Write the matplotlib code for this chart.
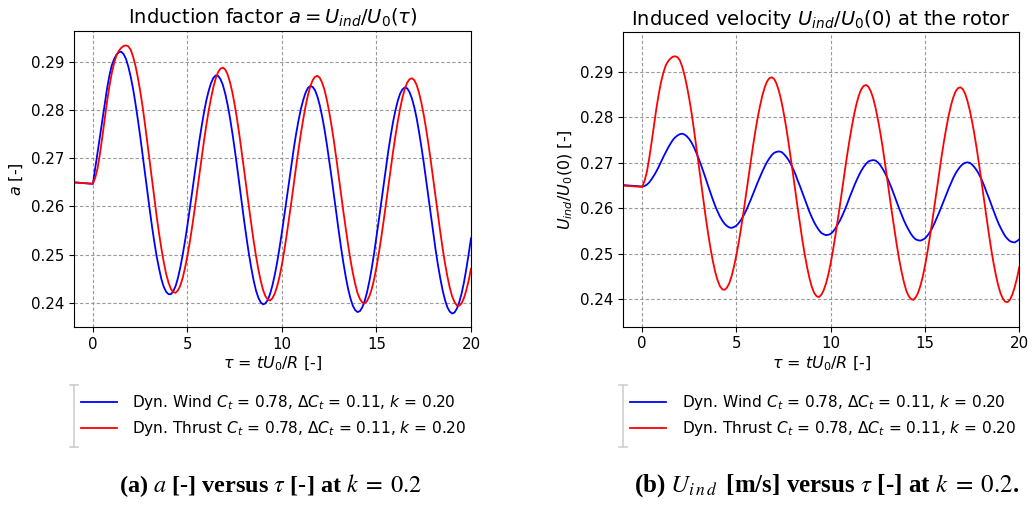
import matplotlib
matplotlib.use("Agg")
import matplotlib.pyplot as plt
from matplotlib.lines import Line2D

plt.rcParams['font.family'] = ['DejaVu Sans']
plt.rcParams['mathtext.fontset'] = 'dejavusans'

# time axis tau = t U0 / R, read every 0.125 from the picture
tau = [-1.0] + [i * 0.125 for i in range(161)]

# Dyn. Wind, induction factor a (left panel)
a_wind = [0.2650,
          0.2647, 0.2680, 0.2713, 0.2747, 0.2780, 0.2813, 0.2845, 0.2872,
          0.2893, 0.2906, 0.2915, 0.2920, 0.2921, 0.2916, 0.2906, 0.2890,
          0.2869, 0.2844, 0.2814, 0.2781, 0.2746, 0.2708, 0.2670, 0.2632,
          0.2595, 0.2559, 0.2526, 0.2496, 0.2471, 0.2449, 0.2433, 0.2423,
          0.2418, 0.2418, 0.2424, 0.2435, 0.2452, 0.2474, 0.2500, 0.2529,
          0.2561, 0.2595, 0.2630, 0.2666, 0.2701, 0.2735, 0.2766, 0.2795,
          0.2820, 0.2840, 0.2856, 0.2867, 0.2872, 0.2871, 0.2864, 0.2852,
          0.2834, 0.2811, 0.2784, 0.2753, 0.2719, 0.2683, 0.2645, 0.2607,
          0.2570, 0.2535, 0.2502, 0.2473, 0.2447, 0.2426, 0.2411, 0.2401,
          0.2397, 0.2399, 0.2406, 0.2419, 0.2437, 0.2459, 0.2485, 0.2515,
          0.2547, 0.2581, 0.2616, 0.2651, 0.2686, 0.2720, 0.2751, 0.2778,
          0.2802, 0.2821, 0.2836, 0.2846, 0.2850, 0.2848, 0.2841, 0.2828,
          0.2810, 0.2787, 0.2760, 0.2729, 0.2695, 0.2660, 0.2623, 0.2586,
          0.2550, 0.2515, 0.2483, 0.2454, 0.2429, 0.2409, 0.2394, 0.2385,
          0.2381, 0.2383, 0.2391, 0.2404, 0.2422, 0.2445, 0.2472, 0.2503,
          0.2537, 0.2572, 0.2608, 0.2645, 0.2681, 0.2715, 0.2746, 0.2775,
          0.2799, 0.2819, 0.2834, 0.2843, 0.2847, 0.2845, 0.2837, 0.2824,
          0.2806, 0.2783, 0.2755, 0.2724, 0.2691, 0.2655, 0.2618, 0.2582,
          0.2546, 0.2511, 0.2479, 0.2451, 0.2426, 0.2406, 0.2391, 0.2382,
          0.2378, 0.2380, 0.2388, 0.2401, 0.2419, 0.2442, 0.2470, 0.2501,
          0.2534]

# Dyn. Thrust (same curve in both panels)
thrust = [0.2650,
          0.2647, 0.2660, 0.2680, 0.2710, 0.2745, 0.2782, 0.2818, 0.2850,
          0.2877, 0.2898, 0.2914, 0.2923, 0.2929, 0.2933, 0.2934, 0.2932,
          0.2925, 0.2911, 0.2892, 0.2868, 0.2840, 0.2808, 0.2772, 0.2734,
          0.2695, 0.2656, 0.2617, 0.2579, 0.2544, 0.2512, 0.2484, 0.2460,
          0.2442, 0.2429, 0.2422, 0.2421, 0.2426, 0.2436, 0.2452, 0.2473,
          0.2498, 0.2526, 0.2558, 0.2592, 0.2628, 0.2665, 0.2701, 0.2736,
          0.2769, 0.2799, 0.2825, 0.2848, 0.2866, 0.2879, 0.2886, 0.2888,
          0.2884, 0.2874, 0.2858, 0.2837, 0.2811, 0.2781, 0.2748, 0.2712,
          0.2675, 0.2637, 0.2600, 0.2564, 0.2529, 0.2498, 0.2470, 0.2446,
          0.2427, 0.2414, 0.2407, 0.2405, 0.2410, 0.2420, 0.2435, 0.2455,
          0.2480, 0.2509, 0.2541, 0.2575, 0.2610, 0.2647, 0.2683, 0.2718,
          0.2751, 0.2781, 0.2808, 0.2831, 0.2849, 0.2862, 0.2869, 0.2871,
          0.2867, 0.2857, 0.2842, 0.2821, 0.2796, 0.2767, 0.2735, 0.2700,
          0.2663, 0.2626, 0.2589, 0.2554, 0.2520, 0.2489, 0.2462, 0.2439,
          0.2420, 0.2408, 0.2401, 0.2399, 0.2404, 0.2414, 0.2429, 0.2449,
          0.2474, 0.2503, 0.2535, 0.2569, 0.2605, 0.2642, 0.2678, 0.2713,
          0.2746, 0.2776, 0.2803, 0.2826, 0.2844, 0.2857, 0.2864, 0.2866,
          0.2862, 0.2852, 0.2836, 0.2815, 0.2790, 0.2761, 0.2729, 0.2694,
          0.2657, 0.2620, 0.2583, 0.2547, 0.2513, 0.2482, 0.2455, 0.2432,
          0.2414, 0.2402, 0.2395, 0.2394, 0.2399, 0.2410, 0.2426, 0.2446,
          0.2471]

# Dyn. Wind, U_ind / U0(0) (right panel)
u_wind = [0.2651,
          0.2648, 0.2649, 0.2652, 0.2657, 0.2664, 0.2672, 0.2681, 0.2691,
          0.2702, 0.2713, 0.2723, 0.2733, 0.2742, 0.2750, 0.2756, 0.2760,
          0.2763, 0.2764, 0.2762, 0.2758, 0.2752, 0.2744, 0.2734, 0.2722,
          0.2709, 0.2695, 0.2680, 0.2665, 0.2649, 0.2634, 0.2619, 0.2605,
          0.2593, 0.2582, 0.2573, 0.2566, 0.2561, 0.2558, 0.2557, 0.2559,
          0.2562, 0.2568, 0.2575, 0.2584, 0.2594, 0.2606, 0.2618, 0.2631,
          0.2644, 0.2657, 0.2669, 0.2681, 0.2692, 0.2702, 0.2710, 0.2717,
          0.2722, 0.2724, 0.2725, 0.2724, 0.2720, 0.2714, 0.2707, 0.2698,
          0.2687, 0.2675, 0.2661, 0.2648, 0.2634, 0.2620, 0.2606, 0.2592,
          0.2580, 0.2569, 0.2560, 0.2552, 0.2546, 0.2543, 0.2541, 0.2542,
          0.2544, 0.2549, 0.2556, 0.2565, 0.2574, 0.2585, 0.2597, 0.2610,
          0.2624, 0.2637, 0.2650, 0.2662, 0.2673, 0.2683, 0.2691, 0.2698,
          0.2703, 0.2705, 0.2706, 0.2705, 0.2701, 0.2695, 0.2687, 0.2678,
          0.2667, 0.2655, 0.2642, 0.2628, 0.2614, 0.2600, 0.2587, 0.2574,
          0.2563, 0.2553, 0.2544, 0.2537, 0.2532, 0.2530, 0.2529, 0.2531,
          0.2534, 0.2540, 0.2547, 0.2556, 0.2567, 0.2579, 0.2591, 0.2604,
          0.2617, 0.2630, 0.2643, 0.2655, 0.2667, 0.2677, 0.2685, 0.2692,
          0.2697, 0.2700, 0.2701, 0.2700, 0.2696, 0.2690, 0.2683, 0.2674,
          0.2663, 0.2651, 0.2637, 0.2624, 0.2610, 0.2596, 0.2582, 0.2569,
          0.2558, 0.2548, 0.2539, 0.2533, 0.2528, 0.2526, 0.2525, 0.2528,
          0.2532]

lab_wind = r"Dyn. Wind $C_t$ = 0.78, $\Delta C_t$ = 0.11, $k$ = 0.20"
lab_thrust = r"Dyn. Thrust $C_t$ = 0.78, $\Delta C_t$ = 0.11, $k$ = 0.20"

fig = plt.figure(figsize=(10.33, 5.05), dpi=100)
ax1 = fig.add_axes([74 / 1033, 1 - 327 / 505, 397 / 1033, 296 / 505])
ax2 = fig.add_axes([623.3 / 1033, 1 - 326.7 / 505, 396 / 1033, 295 / 505])

def style(ax, ylim, ylabel, title):
    ax.set_xlim(-1, 20)
    ax.set_ylim(*ylim)
    ax.set_xticks([0, 5, 10, 15, 20])
    ax.set_yticks([0.24, 0.25, 0.26, 0.27, 0.28, 0.29])
    ax.set_yticklabels(["0.24", "0.25", "0.26", "0.27", "0.28", "0.29"])
    ax.grid(True, color='gray', linestyle=(0, (3, 2)), linewidth=0.8, alpha=0.8)
    ax.tick_params(labelsize=10.8)
    ax.set_xlabel(r"$\tau$ = $tU_0/R$ [-]", fontsize=11.5, labelpad=2)
    ax.set_ylabel(ylabel, fontsize=11.5, labelpad=4)
    ax.set_title(title, fontsize=14, pad=5)

ax1.plot(tau, a_wind, color='blue', lw=1.3, label=lab_wind)
ax1.plot(tau, thrust, color='red', lw=1.3, label=lab_thrust)
style(ax1, (0.2350, 0.2964), r"$a$ [-]", r"Induction factor $a = U_{ind}/U_0(\tau)$")

ax2.plot(tau, u_wind, color='blue', lw=1.3, label=lab_wind)
ax2.plot(tau, thrust, color='red', lw=1.3, label=lab_thrust)
style(ax2, (0.2340, 0.2988), r"$U_{ind}/U_0(0)$ [-]", r"Induced velocity $U_{ind}/U_0(0)$ at the rotor")

for ax, xh in [(ax1, 80.7), (ax2, 630.0)]:
    ax.legend(loc='upper left', bbox_to_anchor=(xh / 1033, 1 - 393 / 505),
              bbox_transform=fig.transFigure, frameon=False, fontsize=11.1,
              borderpad=0, borderaxespad=0, handlelength=2.35,
              handletextpad=1.0, labelspacing=0.45)

# grey bar left of each legend
for xb in [74.0, 623.3]:
    x = xb / 1033
    y0, y1 = 1 - 385 / 505, 1 - 447 / 505
    c = 4 / 1033
    fig.add_artist(Line2D([x, x], [y0, y1], color='#cfcfcf', lw=1.2))
    fig.add_artist(Line2D([x - c, x + c], [y0, y0], color='#cfcfcf', lw=1.2))
    fig.add_artist(Line2D([x - c, x + c], [y1, y1], color='#cfcfcf', lw=1.2))

cap_kw = dict(ha='center', va='center', fontweight='bold',
              family='Liberation Serif', math_fontfamily='stix')
fig.text(271 / 1033, 1 - 486 / 505, r"(a) $a$ [-] versus $\tau$ [-] at $k\;=\;0.2$",
         fontsize=17.5, **cap_kw)
fig.text(827 / 1033, 1 - 486 / 505,
         r"(b) $U_{i\,n\,d}\,$ [m/s] versus $\tau$ [-] at $k\;=\;0.2$.",
         fontsize=18, **cap_kw)

fig.savefig("out.png", dpi=100)
